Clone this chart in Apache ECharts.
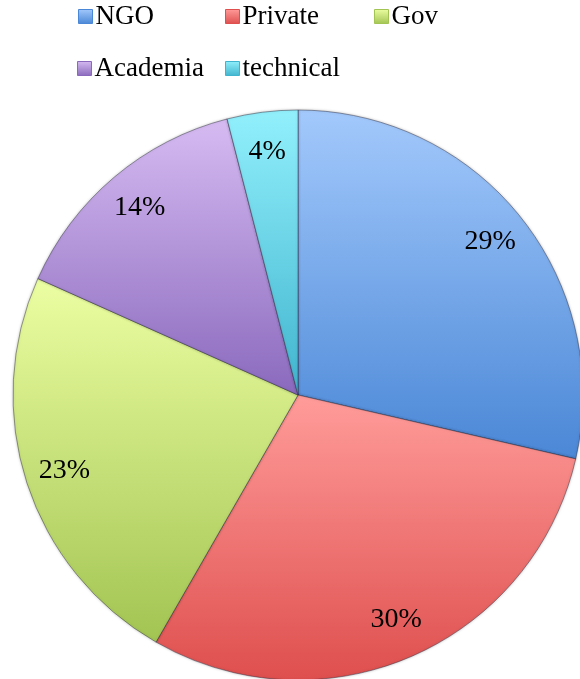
<!DOCTYPE html>
<html>
<head>
<meta charset="utf-8">
<script src="https://cdn.jsdelivr.net/npm/echarts@6/dist/echarts.min.js"></script>
<style>
  html, body { margin: 0; padding: 0; background: #fff; }
  #chart { width: 580px; height: 679px; }
</style>
</head>
<body>
<div id="chart"></div>
<script>
// categories and shares (angles of the slice edges)
const categories = ["NGO", "Private", "Gov", "Academia", "technical"];
const values = [28.6, 29.7, 23.4, 14.3, 4.0];

// light (top) / dark (bottom) colour of each slice
const topColors = ["#a3c9fc", "#ff9c9a", "#ecfea2", "#d6bbf2", "#92f0fc"];
const bottomColors = ["#4a87d6", "#de4f4e", "#a2c452", "#8a69bd", "#40b4ce"];

const chart = echarts.init(document.getElementById("chart"));

function grad(i) {
  return new echarts.graphic.LinearGradient(0, 0, 0, 1, [
    { offset: 0, color: topColors[i] },
    { offset: 1, color: bottomColors[i] }
  ]);
}

// legend laid out like a grid: one legend per entry
const legendPos = [
  { left: 78, top: 3 },
  { left: 225, top: 3 },
  { left: 374, top: 3 },
  { left: 77, top: 55 },
  { left: 225, top: 55 }
];

const legends = categories.map((name, i) => ({
  left: legendPos[i].left,
  top: legendPos[i].top,
  orient: "horizontal",
  icon: "rect",
  itemWidth: 14,
  itemHeight: 14,
  itemGap: 0,
  selectedMode: false,
  padding: 0,
  textStyle: {
    fontFamily: "Liberation Serif",
    fontSize: 27,
    color: "#000",
    padding: [2, 0, 0, -2]
  },
  data: [{
    name: name,
    itemStyle: {
      color: grad(i),
      borderColor: bottomColors[i],
      borderWidth: 1
    }
  }]
}));

const sliceData = categories.map((name, i) => ({
  name: name,
  value: values[i],
  itemStyle: { color: grad(i) }
}));

const option = {
  animation: false,
  legend: legends,
  series: [
    {
      type: "pie",
      center: [298, 395],
      radius: 285,
      startAngle: 90,
      clockwise: true,
      label: { show: false },
      labelLine: { show: false },
      itemStyle: {
        borderColor: "rgba(40,40,60,0.45)",
        borderWidth: 1,
        shadowColor: "rgba(0,0,0,0.25)",
        shadowBlur: 3
      },
      emphasis: { disabled: true },
      data: sliceData
    },
    {
      // label ring, so the percentages sit out near the rim
      type: "pie",
      center: [298, 395],
      radius: [200, 285],
      startAngle: 90,
      clockwise: true,
      silent: true,
      percentPrecision: 0,
      itemStyle: { color: "rgba(0,0,0,0)", borderWidth: 0 },
      label: {
        show: true,
        position: "inside",
        formatter: "{d}%",
        fontFamily: "Liberation Serif",
        fontSize: 28,
        color: "#000"
      },
      labelLine: { show: false },
      emphasis: { disabled: true },
      data: categories.map((name, i) => ({ name: name, value: values[i] }))
    }
  ]
};

chart.setOption(option);
</script>
</body>
</html>
